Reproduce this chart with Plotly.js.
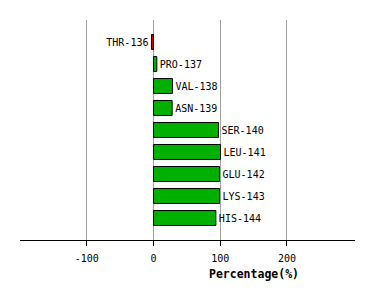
<!DOCTYPE html>
<html><head><meta charset="utf-8">
<script src="https://cdn.plot.ly/plotly-3.0.1.min.js"></script>
<style>body{margin:0;padding:0;background:#fff}</style>
</head><body>
<div id="chart" style="width:374px;height:300px"></div>
<script>
const residues = ["THR-136","PRO-137","VAL-138","ASN-139","SER-140","LEU-141","GLU-142","LYS-143","HIS-144"];
const percentages = [-3, 5, 28.5, 28, 97.5, 100.5, 99, 99, 93.5];
const tickValues = [-100, 0, 100, 200];
const barColors = percentages.map(v => v < 0 ? "#cc0000" : "#00b000");

const trace = {
  type: "bar",
  orientation: "h",
  y: residues,
  x: percentages,
  width: 0.68,
  marker: {color: barColors, line: {color: "#000", width: 1}},
  text: residues,
  textposition: "outside",
  cliponaxis: false,
  textfont: {family: "DejaVu Sans Mono", size: 10, color: "#000"},
  hoverinfo: "none"
};

const layout = {
  width: 374, height: 300,
  margin: {l: 20, r: 19, t: 20, b: 60},
  paper_bgcolor: "#fff", plot_bgcolor: "#fff",
  showlegend: false,
  xaxis: {
    range: [-200, 302],
    tickvals: tickValues,
    ticktext: tickValues.map(String),
    showgrid: true, gridcolor: "#a0a0a0", gridwidth: 1,
    zeroline: true, zerolinecolor: "#a0a0a0", zerolinewidth: 1,
    showline: true, linecolor: "#000", linewidth: 1,
    ticks: "outside", ticklen: 5, tickcolor: "#000",
    ticklabelstandoff: 4,
    tickfont: {family: "DejaVu Sans Mono", size: 10, color: "#000"},
    fixedrange: true
  },
  yaxis: {
    type: "category",
    range: [9, -1],
    showticklabels: false, showgrid: false, zeroline: false, showline: false,
    ticks: "", fixedrange: true
  },
  annotations: [{
    text: "<b>Percentage(%)</b>",
    xref: "paper", yref: "paper",
    x: 0.70, y: -0.155,
    xanchor: "center", yanchor: "middle",
    showarrow: false,
    font: {family: "DejaVu Sans Mono", size: 11.5, color: "#000"}
  }]
};

Plotly.newPlot("chart", [trace], layout, {staticPlot: true, displayModeBar: false});
</script>
</body></html>
